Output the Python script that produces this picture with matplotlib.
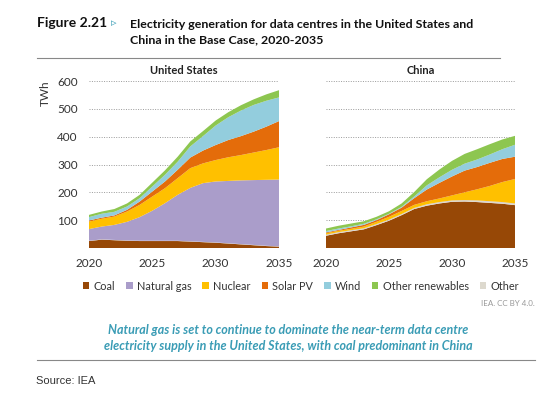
import matplotlib
matplotlib.use("Agg")
import matplotlib.pyplot as plt
import numpy as np
from matplotlib.patches import Patch

plt.rcParams['font.family'] = ['Lato', 'DejaVu Sans']

years = np.arange(2020, 2036)
sources = ["Coal", "Natural gas", "Nuclear", "Solar PV", "Wind", "Other renewables", "Other"]
colors = ["#974806", "#AA9DCA", "#FFC000", "#E46C0A", "#93CDDD", "#8DC650", "#DDD9CE"]

# TWh per year
us_coal = [25, 30, 28, 26, 25, 25, 25, 25, 23, 21, 19, 16, 13, 10, 7, 5]
us_gas = [42, 46, 54, 67, 85, 108, 135, 165, 192, 211, 219, 224, 229, 233, 237, 240]
us_nuclear = [27, 28, 30, 37, 44, 51, 54, 60, 71, 71, 77, 85, 91, 99, 107, 116]
us_solar = [4, 4, 4, 6, 12, 18, 24, 30, 38, 46, 54, 62, 68, 75, 84, 94]
us_wind = [12, 14, 13, 12, 12, 18, 24, 29, 40, 52, 70, 82, 92, 96, 93, 85]
us_other_ren = [8, 8, 10, 11, 12, 14, 16, 18, 18, 18, 18, 18, 19, 20, 23, 26]
us_other = [1, 1, 1, 1, 1, 1, 1, 1, 1, 1, 1, 1, 1, 1, 1, 1]

cn_coal = [44, 53, 60, 67, 82, 98, 118, 140, 152, 160, 166, 167, 165, 162, 159, 154]
cn_gas = [1, 1, 1, 1, 1, 1, 1, 1, 1, 1, 1, 1, 1, 1, 1, 1]
cn_nuclear = [5, 5, 5, 6, 8, 10, 11, 11, 11, 13, 18, 28, 40, 55, 72, 88]
cn_solar = [3, 3, 5, 6, 6, 9, 12, 24, 42, 56, 68, 78, 80, 83, 83, 80]
cn_wind = [5, 5, 4, 4, 3, 2, 3, 6, 15, 20, 24, 25, 27, 30, 35, 43]
cn_other_ren = [9, 10, 10, 9, 9, 9, 12, 16, 22, 28, 32, 35, 37, 37, 35, 32]
cn_other = [3, 3, 3, 3, 3, 3, 3, 3, 4, 4, 4, 4, 5, 5, 5, 5]

us = [us_coal, us_other, us_gas, us_nuclear, us_solar, us_wind, us_other_ren]
cn = [cn_coal, cn_other, cn_gas, cn_nuclear, cn_solar, cn_wind, cn_other_ren]
stack_colors = [colors[0], colors[6], colors[1], colors[2], colors[3], colors[4], colors[5]]

W, H = 560, 397
fig = plt.figure(figsize=(W / 100, H / 100), dpi=100)

def px_axes(x0, x1, y_top, y_bot):
    return fig.add_axes([x0 / W, 1 - y_bot / H, (x1 - x0) / W, (y_bot - y_top) / H])

ax_us = px_axes(89, 279, 81, 248)
ax_cn = px_axes(326, 515, 81, 248)

for ax, data, name in [(ax_us, us, "United States"), (ax_cn, cn, "China")]:
    ax.stackplot(years, *data, colors=stack_colors, linewidth=0)
    ax.set_xlim(2020, 2035)
    ax.set_ylim(0, 600)
    ax.set_yticks([100, 200, 300, 400, 500, 600])
    ax.yaxis.grid(True, linestyle=(0, (1, 1.5)), color="#9a9a9a", linewidth=0.7)
    ax.set_axisbelow(True)
    ax.set_xticks([2020, 2025, 2030, 2035])
    ax.tick_params(length=0, labelsize=8.5, colors="#333333", pad=7)
    for s in ax.spines.values():
        s.set_visible(False)
    ax.set_title(name, fontsize=8, fontweight="bold", pad=5, color="#222222")

ax_cn.set_yticklabels([])
ax_us.tick_params(axis="y", pad=8)
ax_us.set_ylabel("TWh", fontsize=8.5, color="#333333")
ax_us.yaxis.set_label_coords(-0.2, 0.93)

# header
fig.text(37 / W, 1 - 23 / H, "Figure 2.21", fontsize=10, fontweight="bold", va="center", color="#111111")
fig.text(111 / W, 1 - 23 / H, "\u25b9", fontsize=8, color="#3fa0b8", va="center", family="DejaVu Sans")
fig.text(130 / W, 1 - 32 / H, "Electricity generation for data centres in the United States and\nChina in the Base Case, 2020-2035",
         fontsize=8.9, fontweight="bold", va="center", linespacing=1.5, color="#111111")
fig.add_artist(plt.Line2D([37 / W, 500 / W], [1 - 58 / H, 1 - 58 / H], color="#888888", linewidth=0.8))

handles = [Patch(facecolor=c, label=s) for s, c in zip(sources, colors)]
fig.legend(handles=handles, loc="center", bbox_to_anchor=(301 / W, 1 - 286 / H), ncol=7, frameon=False,
           fontsize=7.8, handlelength=0.6, handleheight=0.6, handletextpad=0.4, columnspacing=1.0,
           labelcolor="#333333")

fig.text(535 / W, 1 - 304 / H, "IEA. CC BY 4.0.", fontsize=5.8, color="#999999", ha="right", va="center")
fig.text(288 / W, 1 - 338 / H, "Natural gas is set to continue to dominate the near-term data centre\nelectricity supply in the United States, with coal predominant in China",
         fontsize=9, fontstyle="italic", fontweight="bold", color="#3a9cb5", ha="center", va="center", linespacing=1.45)
fig.add_artist(plt.Line2D([37 / W, 535 / W], [1 - 360 / H, 1 - 360 / H], color="#888888", linewidth=0.8))

fig.text(36 / W, 1 - 381 / H, "Source: IEA", fontsize=8, color="#333333", va="center", family="Liberation Sans")

fig.savefig("out.png", dpi=100, facecolor="white")
